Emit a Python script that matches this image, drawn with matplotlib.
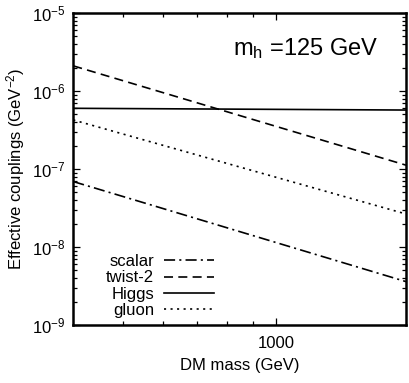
import matplotlib
matplotlib.use("Agg")
import matplotlib.pyplot as plt
from matplotlib.ticker import LogLocator, NullFormatter, FixedLocator, FixedFormatter

plt.rcParams['font.family'] = ['Liberation Sans', 'DejaVu Sans']
plt.rcParams['mathtext.fontset'] = 'custom'
plt.rcParams['mathtext.rm'] = 'Liberation Sans'
plt.rcParams['mathtext.it'] = 'Liberation Sans:italic'
plt.rcParams['mathtext.bf'] = 'Liberation Sans:bold'
plt.rcParams['lines.scale_dashes'] = False

# Data
mass = [400, 1800]
scalar = [6.9e-8, 3.6e-9]
twist2 = [2.1e-6, 1.12e-7]
higgs = [6.0e-7, 5.7e-7]
gluon = [4.25e-7, 2.65e-8]
labels = ["scalar", "twist-2", "Higgs", "gluon"]

fig = plt.figure(figsize=(4.09, 3.83), dpi=100)
ax = fig.add_axes([73.3/409, 1-325/383, (406-73.3)/409, (325-13)/383])

lw = 1.2
ax.plot(mass, scalar, color='black', lw=lw, dashes=(8, 3, 1.5, 3), label=labels[0])
ax.plot(mass, twist2, color='black', lw=lw, dashes=(6.5, 3.8), label=labels[1])
ax.plot(mass, higgs, color='black', lw=lw, label=labels[2])
ax.plot(mass, gluon, color='black', lw=lw, dashes=(1.5, 3.2), label=labels[3])

ax.set_xscale('log')
ax.set_yscale('log')
ax.set_xlim(400, 1800)
ax.set_ylim(1e-9, 1e-5)

ax.xaxis.set_major_locator(FixedLocator([1000]))
ax.xaxis.set_major_formatter(FixedFormatter(["1000"]))
ax.xaxis.set_minor_locator(FixedLocator([500, 600, 700, 800, 900]))
ax.xaxis.set_minor_formatter(NullFormatter())
ax.yaxis.set_major_locator(LogLocator(base=10, numticks=10))
ax.yaxis.set_minor_locator(LogLocator(base=10, subs=range(2, 10), numticks=20))
ax.yaxis.set_minor_formatter(NullFormatter())

for s in ax.spines.values():
    s.set_linewidth(1.8)
ax.tick_params(which='both', direction='in', top=True, right=True, width=0.9, labelsize=12)
ax.tick_params(which='major', length=5)
ax.tick_params(which='minor', length=3)
ax.tick_params(axis='y', pad=6)
ax.tick_params(axis='x', pad=8)

ax.set_xlabel("DM mass (GeV)", fontsize=12, labelpad=5)
ax.set_ylabel("Effective couplings (GeV$^{-2}$)", fontsize=12, labelpad=3)

ax.text(0.48, 0.865, r"m$_\mathrm{h}$ =125 GeV", transform=ax.transAxes,
        fontsize=17, ha='left', va='baseline')

leg = ax.legend(loc='lower right', bbox_to_anchor=((214-73.3)/332.7, (325-318)/312),
                frameon=False, markerfirst=False, fontsize=12, handlelength=3.0,
                handletextpad=0.6, labelspacing=0.08, borderpad=0, borderaxespad=0)

fig.savefig("out.png", dpi=100)
